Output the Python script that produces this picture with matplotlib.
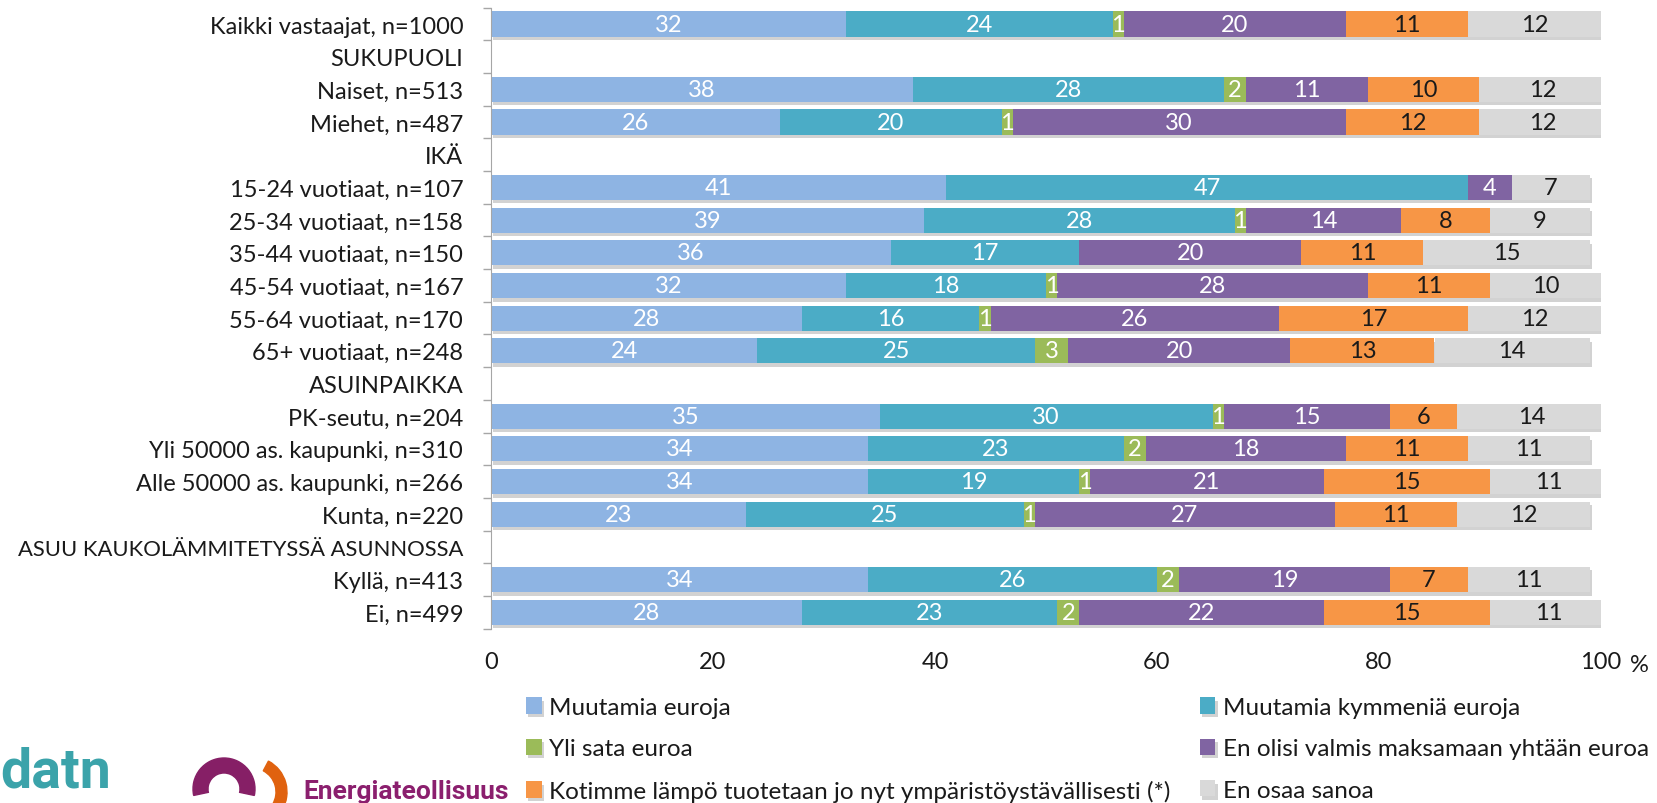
import matplotlib
matplotlib.use("Agg")
import matplotlib.pyplot as plt
import matplotlib.patheffects as pe
from matplotlib.patches import Wedge

FONT = "Lato"
plt.rcParams['font.family'] = [FONT, 'DejaVu Sans']

categories = [
    "Kaikki vastaajat, n=1000", "SUKUPUOLI", "Naiset, n=513", "Miehet, n=487", "IKÄ",
    "15-24 vuotiaat, n=107", "25-34 vuotiaat, n=158", "35-44 vuotiaat, n=150",
    "45-54 vuotiaat, n=167", "55-64 vuotiaat, n=170", "65+ vuotiaat, n=248",
    "ASUINPAIKKA", "PK-seutu, n=204", "Yli 50000 as. kaupunki, n=310",
    "Alle 50000 as. kaupunki, n=266", "Kunta, n=220",
    "ASUU KAUKOLÄMMITETYSSÄ ASUNNOSSA", "Kyllä, n=413", "Ei, n=499",
]
series_names = [
    "Muutamia euroja", "Muutamia kymmeniä euroja", "Yli sata euroa",
    "En olisi valmis maksamaan yhtään euroa",
    "Kotimme lämpö tuotetaan jo nyt ympäristöystävällisesti (*)", "En osaa sanoa",
]
# None = header row without bar
muutamia_euroja   = [32, None, 38, 26, None, 41, 39, 36, 32, 28, 24, None, 35, 34, 34, 23, None, 34, 28]
muutamia_kymmenia = [24, None, 28, 20, None, 47, 28, 17, 18, 16, 25, None, 30, 23, 19, 25, None, 26, 23]
yli_sata          = [1, None, 2, 1, None, 0, 1, 0, 1, 1, 3, None, 1, 2, 1, 1, None, 2, 2]
ei_yhtaan         = [20, None, 11, 30, None, 4, 14, 20, 28, 26, 20, None, 15, 18, 21, 27, None, 19, 22]
kotimme           = [11, None, 10, 12, None, 0, 8, 11, 11, 17, 13, None, 6, 11, 15, 11, None, 7, 15]
en_osaa           = [12, None, 11.5, 11.5, None, 7, 9, 15, 10, 12, 14, None, 13.5, 11, 10.5, 12, None, 11, 10.5]
x_ticks = [0, 20, 40, 60, 80, 100]

series = [muutamia_euroja, muutamia_kymmenia, yli_sata, ei_yhtaan, kotimme, en_osaa]
colors = ["#8EB4E3", "#4BACC6", "#9BBB59", "#8064A2", "#F79646", "#D9D9D9"]
text_colors = ["white", "white", "white", "white", "#1a1a1a", "#1a1a1a"]

W, H = 1657, 804
FS = 17
fig = plt.figure(figsize=(W / 100, H / 100), dpi=100)
ax = fig.add_axes([491 / W, 1 - 629.6 / H, (1601 - 491) / W, (629.6 - 8.7) / H])

n = len(categories)
ypos = list(range(n))
left = [0.0] * n
shadow = [pe.SimplePatchShadow(offset=(1.5, -2.5), shadow_rgbFace="#7f7f7f", alpha=0.35), pe.Normal()]
handles = []
for s, col, tc in zip(series, colors, text_colors):
    vals = [v if v is not None else 0 for v in s]
    bars = ax.barh(ypos, vals, left=left, height=0.77, color=col, edgecolor="none")
    handles.append(bars)
    for i, (b, v) in enumerate(zip(bars, s)):
        if v is None:
            b.set_visible(False)
            continue
        if v == 0:
            continue
        b.set_path_effects(shadow)
        ax.text(left[i] + vals[i] / 2, i, f"{int(v + 0.5)}", ha="center", va="center",
                color=tc, fontsize=FS)
    left = [l + v for l, v in zip(left, vals)]

ax.set_xlim(0, 100)
ax.set_ylim(n - 0.5, -0.5)
ax.set_yticks(ypos)
ax.set_yticklabels(categories, fontsize=FS, color="#1a1a1a")
for lab in ax.get_yticklabels():
    if lab.get_text() == "ASUU KAUKOLÄMMITETYSSÄ ASUNNOSSA":
        lab.set_fontsize(15.8)
ax.set_yticks([i - 0.5 for i in range(n + 1)], minor=True)
ax.tick_params(axis="y", which="major", length=0, pad=20)
ax.tick_params(axis="y", which="minor", length=6, color="#A6A6A6", width=1)
ax.set_xticks(x_ticks)
ax.set_xticklabels([str(t) for t in x_ticks], fontsize=FS, color="#1a1a1a")
ax.tick_params(axis="x", length=0, pad=16)
for sp in ["top", "right", "bottom"]:
    ax.spines[sp].set_visible(False)
ax.spines["left"].set_color("#A6A6A6")
ax.text(102.6, -0.058, "%", transform=ax.get_xaxis_transform(), fontsize=FS,
        ha="left", va="center", color="#1a1a1a")

order = [0, 2, 4, 1, 3, 5]
leg = fig.legend([handles[i] for i in order], [series_names[i] for i in order],
                 ncol=2, loc="upper left", bbox_to_anchor=(526 / W, 1 - 698 / H),
                 frameon=False, fontsize=17.5, handlelength=0.65, handleheight=0.65,
                 handletextpad=0.3, labelspacing=0.84, columnspacing=1.2,
                 borderaxespad=0, borderpad=0)
for t in leg.get_texts():
    t.set_color("#1a1a1a")

# logos (approximate)
lax = fig.add_axes([0, 0, 530 / W, 150 / H])
lax.set_xlim(0, 530)
lax.set_ylim(804, 654)
lax.axis("off")
lax.text(0, 788, "datn", color="#3BA3AA", fontsize=40, fontweight="bold",
         family="Roboto", ha="left", va="baseline")
lax.add_patch(Wedge((224, 790), 31, 168, 372, width=15, color="#861F66"))
lax.add_patch(Wedge((252, 793), 35, -62, 125, width=11, color="#E0620F"))
lax.text(303, 792, "Energiateollisuus", color="#8B1F6E", fontsize=19, fontweight="bold",
         family="Roboto", ha="left", va="center")

fig.savefig("out.png", dpi=100)
